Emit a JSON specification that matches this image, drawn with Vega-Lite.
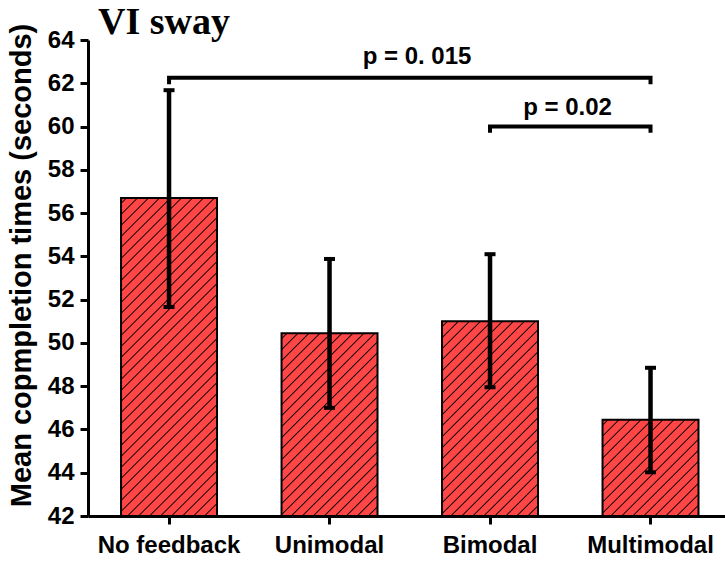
{
  "$schema": "https://vega.github.io/schema/vega-lite/v6.json",
  "autosize": {"type": "none"},
  "padding": {"left": 88, "top": 40, "right": 0, "bottom": 45},
  "width": 637,
  "height": 476,
  "background": "white",
  "title": {
    "text": "VI sway",
    "anchor": "start",
    "frame": "group",
    "font": "Liberation Serif",
    "fontSize": 38,
    "fontWeight": "bold",
    "color": "black",
    "baseline": "alphabetic",
    "dx": 10,
    "dy": 49,
    "offset": 0
  },
  "datasets": {
    "bars": [
      {"cond": "No feedback", "mean": 56.7, "lo": 51.66, "hi": 61.68},
      {"cond": "Unimodal", "mean": 50.45, "lo": 47.0, "hi": 53.88},
      {"cond": "Bimodal", "mean": 51.0, "lo": 47.95, "hi": 54.1},
      {"cond": "Multimodal", "mean": 46.45, "lo": 44.02, "hi": 48.85}
    ],
    "brackets": [
      {"pair": "nf-mm", "cond": "No feedback", "y": 62.05, "step": 1},
      {"pair": "nf-mm", "cond": "No feedback", "y": 62.25, "step": 2},
      {"pair": "nf-mm", "cond": "Multimodal", "y": 62.25, "step": 3},
      {"pair": "nf-mm", "cond": "Multimodal", "y": 62.05, "step": 4},
      {"pair": "bi-mm", "cond": "Bimodal", "y": 59.8, "step": 1},
      {"pair": "bi-mm", "cond": "Bimodal", "y": 60.0, "step": 2},
      {"pair": "bi-mm", "cond": "Multimodal", "y": 60.0, "step": 3},
      {"pair": "bi-mm", "cond": "Multimodal", "y": 59.8, "step": 4}
    ],
    "notes": [
      {"pair": "nf-mm", "cond": "Bimodal", "y": 63.2, "label": "p = 0. 015"},
      {"pair": "bi-mm", "cond": "Multimodal", "y": 60.86, "label": "p = 0.02"}
    ]
  },
  "encoding": {
    "x": {
      "field": "cond",
      "type": "nominal",
      "scale": {
        "domain": ["No feedback", "Unimodal", "Bimodal", "Multimodal"],
        "paddingInner": 0.402,
        "paddingOuter": 0.1855,
        "align": 0.555
      },
      "axis": {
        "title": null,
        "labelAngle": 0,
        "labelFont": "Liberation Sans",
        "labelFontWeight": "bold",
        "labelFontSize": 24,
        "labelColor": "black",
        "labelPadding": 9,
        "tickSize": 8,
        "tickWidth": 3,
        "tickColor": "black",
        "domainWidth": 3,
        "domainColor": "black",
        "grid": false
      }
    }
  },
  "layer": [
    {
      "data": {"name": "bars"},
      "mark": {"type": "bar", "stroke": "black", "strokeWidth": 2},
      "encoding": {
        "y": {
          "field": "mean",
          "type": "quantitative",
          "scale": {"domain": [42, 64], "zero": false, "nice": false},
          "axis": {
            "title": "Mean copmpletion times (seconds)",
            "titleFont": "Liberation Sans",
            "titleFontWeight": "bold",
            "titleFontSize": 29,
            "titleColor": "black",
            "titlePadding": 11,
            "titleY": 225,
            "values": [42, 43, 44, 45, 46, 47, 48, 49, 50, 51, 52, 53, 54, 55, 56, 57, 58, 59, 60, 61, 62, 63, 64],
            "labelExpr": "datum.value % 2 === 0 ? datum.label : ''",
            "labelFont": "Liberation Sans",
            "labelFontWeight": "bold",
            "labelFontSize": 24,
            "labelColor": "black",
            "labelPadding": 6,
            "tickSize": {"condition": {"test": "datum.value % 2 !== 0", "value": 4}, "value": 8},
            "tickWidth": 3,
            "tickColor": "black",
            "domainWidth": 3,
            "domainColor": "black",
            "grid": false
          }
        },
        "y2": {"datum": 42},
        "fill": {
          "condition": [
            {
              "test": "datum.cond === 'No feedback'",
              "value": {"gradient": "linear", "x1": 0, "y1": 0, "x2": 0.38271, "y2": 1.26791, "stops": [
                {"offset":0.0095,"color":"#ff4646"},{"offset":0.0125,"color":"#000000"},{"offset":0.0155,"color":"#ff4646"},
                {"offset":0.0345,"color":"#ff4646"},{"offset":0.0375,"color":"#000000"},{"offset":0.0405,"color":"#ff4646"},
                {"offset":0.0595,"color":"#ff4646"},{"offset":0.0625,"color":"#000000"},{"offset":0.0655,"color":"#ff4646"},
                {"offset":0.0845,"color":"#ff4646"},{"offset":0.0875,"color":"#000000"},{"offset":0.0905,"color":"#ff4646"},
                {"offset":0.1095,"color":"#ff4646"},{"offset":0.1125,"color":"#000000"},{"offset":0.1155,"color":"#ff4646"},
                {"offset":0.1345,"color":"#ff4646"},{"offset":0.1375,"color":"#000000"},{"offset":0.1405,"color":"#ff4646"},
                {"offset":0.1595,"color":"#ff4646"},{"offset":0.1625,"color":"#000000"},{"offset":0.1655,"color":"#ff4646"},
                {"offset":0.1845,"color":"#ff4646"},{"offset":0.1875,"color":"#000000"},{"offset":0.1905,"color":"#ff4646"},
                {"offset":0.2095,"color":"#ff4646"},{"offset":0.2125,"color":"#000000"},{"offset":0.2155,"color":"#ff4646"},
                {"offset":0.2345,"color":"#ff4646"},{"offset":0.2375,"color":"#000000"},{"offset":0.2405,"color":"#ff4646"},
                {"offset":0.2595,"color":"#ff4646"},{"offset":0.2625,"color":"#000000"},{"offset":0.2655,"color":"#ff4646"},
                {"offset":0.2845,"color":"#ff4646"},{"offset":0.2875,"color":"#000000"},{"offset":0.2905,"color":"#ff4646"},
                {"offset":0.3095,"color":"#ff4646"},{"offset":0.3125,"color":"#000000"},{"offset":0.3155,"color":"#ff4646"},
                {"offset":0.3345,"color":"#ff4646"},{"offset":0.3375,"color":"#000000"},{"offset":0.3405,"color":"#ff4646"},
                {"offset":0.3595,"color":"#ff4646"},{"offset":0.3625,"color":"#000000"},{"offset":0.3655,"color":"#ff4646"},
                {"offset":0.3845,"color":"#ff4646"},{"offset":0.3875,"color":"#000000"},{"offset":0.3905,"color":"#ff4646"},
                {"offset":0.4095,"color":"#ff4646"},{"offset":0.4125,"color":"#000000"},{"offset":0.4155,"color":"#ff4646"},
                {"offset":0.4345,"color":"#ff4646"},{"offset":0.4375,"color":"#000000"},{"offset":0.4405,"color":"#ff4646"},
                {"offset":0.4595,"color":"#ff4646"},{"offset":0.4625,"color":"#000000"},{"offset":0.4655,"color":"#ff4646"},
                {"offset":0.4845,"color":"#ff4646"},{"offset":0.4875,"color":"#000000"},{"offset":0.4905,"color":"#ff4646"},
                {"offset":0.5095,"color":"#ff4646"},{"offset":0.5125,"color":"#000000"},{"offset":0.5155,"color":"#ff4646"},
                {"offset":0.5345,"color":"#ff4646"},{"offset":0.5375,"color":"#000000"},{"offset":0.5405,"color":"#ff4646"},
                {"offset":0.5595,"color":"#ff4646"},{"offset":0.5625,"color":"#000000"},{"offset":0.5655,"color":"#ff4646"},
                {"offset":0.5845,"color":"#ff4646"},{"offset":0.5875,"color":"#000000"},{"offset":0.5905,"color":"#ff4646"},
                {"offset":0.6095,"color":"#ff4646"},{"offset":0.6125,"color":"#000000"},{"offset":0.6155,"color":"#ff4646"},
                {"offset":0.6345,"color":"#ff4646"},{"offset":0.6375,"color":"#000000"},{"offset":0.6405,"color":"#ff4646"},
                {"offset":0.6595,"color":"#ff4646"},{"offset":0.6625,"color":"#000000"},{"offset":0.6655,"color":"#ff4646"},
                {"offset":0.6845,"color":"#ff4646"},{"offset":0.6875,"color":"#000000"},{"offset":0.6905,"color":"#ff4646"},
                {"offset":0.7095,"color":"#ff4646"},{"offset":0.7125,"color":"#000000"},{"offset":0.7155,"color":"#ff4646"},
                {"offset":0.7345,"color":"#ff4646"},{"offset":0.7375,"color":"#000000"},{"offset":0.7405,"color":"#ff4646"},
                {"offset":0.7595,"color":"#ff4646"},{"offset":0.7625,"color":"#000000"},{"offset":0.7655,"color":"#ff4646"},
                {"offset":0.7845,"color":"#ff4646"},{"offset":0.7875,"color":"#000000"},{"offset":0.7905,"color":"#ff4646"},
                {"offset":0.8095,"color":"#ff4646"},{"offset":0.8125,"color":"#000000"},{"offset":0.8155,"color":"#ff4646"},
                {"offset":0.8345,"color":"#ff4646"},{"offset":0.8375,"color":"#000000"},{"offset":0.8405,"color":"#ff4646"},
                {"offset":0.8595,"color":"#ff4646"},{"offset":0.8625,"color":"#000000"},{"offset":0.8655,"color":"#ff4646"},
                {"offset":0.8845,"color":"#ff4646"},{"offset":0.8875,"color":"#000000"},{"offset":0.8905,"color":"#ff4646"},
                {"offset":0.9095,"color":"#ff4646"},{"offset":0.9125,"color":"#000000"},{"offset":0.9155,"color":"#ff4646"},
                {"offset":0.9345,"color":"#ff4646"},{"offset":0.9375,"color":"#000000"},{"offset":0.9405,"color":"#ff4646"}
              ]}
            },
            {
              "test": "datum.cond === 'Unimodal'",
              "value": {"gradient": "linear", "x1": 0, "y1": 0, "x2": 0.99055, "y2": 1.88648, "stops": [
                {"offset":0.0095,"color":"#ff4646"},{"offset":0.0125,"color":"#000000"},{"offset":0.0155,"color":"#ff4646"},
                {"offset":0.0345,"color":"#ff4646"},{"offset":0.0375,"color":"#000000"},{"offset":0.0405,"color":"#ff4646"},
                {"offset":0.0595,"color":"#ff4646"},{"offset":0.0625,"color":"#000000"},{"offset":0.0655,"color":"#ff4646"},
                {"offset":0.0845,"color":"#ff4646"},{"offset":0.0875,"color":"#000000"},{"offset":0.0905,"color":"#ff4646"},
                {"offset":0.1095,"color":"#ff4646"},{"offset":0.1125,"color":"#000000"},{"offset":0.1155,"color":"#ff4646"},
                {"offset":0.1345,"color":"#ff4646"},{"offset":0.1375,"color":"#000000"},{"offset":0.1405,"color":"#ff4646"},
                {"offset":0.1595,"color":"#ff4646"},{"offset":0.1625,"color":"#000000"},{"offset":0.1655,"color":"#ff4646"},
                {"offset":0.1845,"color":"#ff4646"},{"offset":0.1875,"color":"#000000"},{"offset":0.1905,"color":"#ff4646"},
                {"offset":0.2095,"color":"#ff4646"},{"offset":0.2125,"color":"#000000"},{"offset":0.2155,"color":"#ff4646"},
                {"offset":0.2345,"color":"#ff4646"},{"offset":0.2375,"color":"#000000"},{"offset":0.2405,"color":"#ff4646"},
                {"offset":0.2595,"color":"#ff4646"},{"offset":0.2625,"color":"#000000"},{"offset":0.2655,"color":"#ff4646"},
                {"offset":0.2845,"color":"#ff4646"},{"offset":0.2875,"color":"#000000"},{"offset":0.2905,"color":"#ff4646"},
                {"offset":0.3095,"color":"#ff4646"},{"offset":0.3125,"color":"#000000"},{"offset":0.3155,"color":"#ff4646"},
                {"offset":0.3345,"color":"#ff4646"},{"offset":0.3375,"color":"#000000"},{"offset":0.3405,"color":"#ff4646"},
                {"offset":0.3595,"color":"#ff4646"},{"offset":0.3625,"color":"#000000"},{"offset":0.3655,"color":"#ff4646"},
                {"offset":0.3845,"color":"#ff4646"},{"offset":0.3875,"color":"#000000"},{"offset":0.3905,"color":"#ff4646"},
                {"offset":0.4095,"color":"#ff4646"},{"offset":0.4125,"color":"#000000"},{"offset":0.4155,"color":"#ff4646"},
                {"offset":0.4345,"color":"#ff4646"},{"offset":0.4375,"color":"#000000"},{"offset":0.4405,"color":"#ff4646"},
                {"offset":0.4595,"color":"#ff4646"},{"offset":0.4625,"color":"#000000"},{"offset":0.4655,"color":"#ff4646"},
                {"offset":0.4845,"color":"#ff4646"},{"offset":0.4875,"color":"#000000"},{"offset":0.4905,"color":"#ff4646"},
                {"offset":0.5095,"color":"#ff4646"},{"offset":0.5125,"color":"#000000"},{"offset":0.5155,"color":"#ff4646"},
                {"offset":0.5345,"color":"#ff4646"},{"offset":0.5375,"color":"#000000"},{"offset":0.5405,"color":"#ff4646"},
                {"offset":0.5595,"color":"#ff4646"},{"offset":0.5625,"color":"#000000"},{"offset":0.5655,"color":"#ff4646"},
                {"offset":0.5845,"color":"#ff4646"},{"offset":0.5875,"color":"#000000"},{"offset":0.5905,"color":"#ff4646"},
                {"offset":0.6095,"color":"#ff4646"},{"offset":0.6125,"color":"#000000"},{"offset":0.6155,"color":"#ff4646"},
                {"offset":0.6345,"color":"#ff4646"},{"offset":0.6375,"color":"#000000"},{"offset":0.6405,"color":"#ff4646"},
                {"offset":0.6595,"color":"#ff4646"},{"offset":0.6625,"color":"#000000"},{"offset":0.6655,"color":"#ff4646"}
              ]}
            },
            {
              "test": "datum.cond === 'Bimodal'",
              "value": {"gradient": "linear", "x1": 0, "y1": 0, "x2": 0.89613, "y2": 1.81774, "stops": [
                {"offset":0.0095,"color":"#ff4646"},{"offset":0.0125,"color":"#000000"},{"offset":0.0155,"color":"#ff4646"},
                {"offset":0.0345,"color":"#ff4646"},{"offset":0.0375,"color":"#000000"},{"offset":0.0405,"color":"#ff4646"},
                {"offset":0.0595,"color":"#ff4646"},{"offset":0.0625,"color":"#000000"},{"offset":0.0655,"color":"#ff4646"},
                {"offset":0.0845,"color":"#ff4646"},{"offset":0.0875,"color":"#000000"},{"offset":0.0905,"color":"#ff4646"},
                {"offset":0.1095,"color":"#ff4646"},{"offset":0.1125,"color":"#000000"},{"offset":0.1155,"color":"#ff4646"},
                {"offset":0.1345,"color":"#ff4646"},{"offset":0.1375,"color":"#000000"},{"offset":0.1405,"color":"#ff4646"},
                {"offset":0.1595,"color":"#ff4646"},{"offset":0.1625,"color":"#000000"},{"offset":0.1655,"color":"#ff4646"},
                {"offset":0.1845,"color":"#ff4646"},{"offset":0.1875,"color":"#000000"},{"offset":0.1905,"color":"#ff4646"},
                {"offset":0.2095,"color":"#ff4646"},{"offset":0.2125,"color":"#000000"},{"offset":0.2155,"color":"#ff4646"},
                {"offset":0.2345,"color":"#ff4646"},{"offset":0.2375,"color":"#000000"},{"offset":0.2405,"color":"#ff4646"},
                {"offset":0.2595,"color":"#ff4646"},{"offset":0.2625,"color":"#000000"},{"offset":0.2655,"color":"#ff4646"},
                {"offset":0.2845,"color":"#ff4646"},{"offset":0.2875,"color":"#000000"},{"offset":0.2905,"color":"#ff4646"},
                {"offset":0.3095,"color":"#ff4646"},{"offset":0.3125,"color":"#000000"},{"offset":0.3155,"color":"#ff4646"},
                {"offset":0.3345,"color":"#ff4646"},{"offset":0.3375,"color":"#000000"},{"offset":0.3405,"color":"#ff4646"},
                {"offset":0.3595,"color":"#ff4646"},{"offset":0.3625,"color":"#000000"},{"offset":0.3655,"color":"#ff4646"},
                {"offset":0.3845,"color":"#ff4646"},{"offset":0.3875,"color":"#000000"},{"offset":0.3905,"color":"#ff4646"},
                {"offset":0.4095,"color":"#ff4646"},{"offset":0.4125,"color":"#000000"},{"offset":0.4155,"color":"#ff4646"},
                {"offset":0.4345,"color":"#ff4646"},{"offset":0.4375,"color":"#000000"},{"offset":0.4405,"color":"#ff4646"},
                {"offset":0.4595,"color":"#ff4646"},{"offset":0.4625,"color":"#000000"},{"offset":0.4655,"color":"#ff4646"},
                {"offset":0.4845,"color":"#ff4646"},{"offset":0.4875,"color":"#000000"},{"offset":0.4905,"color":"#ff4646"},
                {"offset":0.5095,"color":"#ff4646"},{"offset":0.5125,"color":"#000000"},{"offset":0.5155,"color":"#ff4646"},
                {"offset":0.5345,"color":"#ff4646"},{"offset":0.5375,"color":"#000000"},{"offset":0.5405,"color":"#ff4646"},
                {"offset":0.5595,"color":"#ff4646"},{"offset":0.5625,"color":"#000000"},{"offset":0.5655,"color":"#ff4646"},
                {"offset":0.5845,"color":"#ff4646"},{"offset":0.5875,"color":"#000000"},{"offset":0.5905,"color":"#ff4646"},
                {"offset":0.6095,"color":"#ff4646"},{"offset":0.6125,"color":"#000000"},{"offset":0.6155,"color":"#ff4646"},
                {"offset":0.6345,"color":"#ff4646"},{"offset":0.6375,"color":"#000000"},{"offset":0.6405,"color":"#ff4646"},
                {"offset":0.6595,"color":"#ff4646"},{"offset":0.6625,"color":"#000000"},{"offset":0.6655,"color":"#ff4646"},
                {"offset":0.6845,"color":"#ff4646"},{"offset":0.6875,"color":"#000000"},{"offset":0.6905,"color":"#ff4646"}
              ]}
            }
          ],
          "value": {"gradient": "linear", "x1": 0, "y1": 0, "x2": 2.285, "y2": 2.29165, "stops": [
            {"offset":0.0095,"color":"#ff4646"},{"offset":0.0125,"color":"#000000"},{"offset":0.0155,"color":"#ff4646"},
            {"offset":0.0345,"color":"#ff4646"},{"offset":0.0375,"color":"#000000"},{"offset":0.0405,"color":"#ff4646"},
            {"offset":0.0595,"color":"#ff4646"},{"offset":0.0625,"color":"#000000"},{"offset":0.0655,"color":"#ff4646"},
            {"offset":0.0845,"color":"#ff4646"},{"offset":0.0875,"color":"#000000"},{"offset":0.0905,"color":"#ff4646"},
            {"offset":0.1095,"color":"#ff4646"},{"offset":0.1125,"color":"#000000"},{"offset":0.1155,"color":"#ff4646"},
            {"offset":0.1345,"color":"#ff4646"},{"offset":0.1375,"color":"#000000"},{"offset":0.1405,"color":"#ff4646"},
            {"offset":0.1595,"color":"#ff4646"},{"offset":0.1625,"color":"#000000"},{"offset":0.1655,"color":"#ff4646"},
            {"offset":0.1845,"color":"#ff4646"},{"offset":0.1875,"color":"#000000"},{"offset":0.1905,"color":"#ff4646"},
            {"offset":0.2095,"color":"#ff4646"},{"offset":0.2125,"color":"#000000"},{"offset":0.2155,"color":"#ff4646"},
            {"offset":0.2345,"color":"#ff4646"},{"offset":0.2375,"color":"#000000"},{"offset":0.2405,"color":"#ff4646"},
            {"offset":0.2595,"color":"#ff4646"},{"offset":0.2625,"color":"#000000"},{"offset":0.2655,"color":"#ff4646"},
            {"offset":0.2845,"color":"#ff4646"},{"offset":0.2875,"color":"#000000"},{"offset":0.2905,"color":"#ff4646"},
            {"offset":0.3095,"color":"#ff4646"},{"offset":0.3125,"color":"#000000"},{"offset":0.3155,"color":"#ff4646"},
            {"offset":0.3345,"color":"#ff4646"},{"offset":0.3375,"color":"#000000"},{"offset":0.3405,"color":"#ff4646"},
            {"offset":0.3595,"color":"#ff4646"},{"offset":0.3625,"color":"#000000"},{"offset":0.3655,"color":"#ff4646"},
            {"offset":0.3845,"color":"#ff4646"},{"offset":0.3875,"color":"#000000"},{"offset":0.3905,"color":"#ff4646"},
            {"offset":0.4095,"color":"#ff4646"},{"offset":0.4125,"color":"#000000"},{"offset":0.4155,"color":"#ff4646"},
            {"offset":0.4345,"color":"#ff4646"},{"offset":0.4375,"color":"#000000"},{"offset":0.4405,"color":"#ff4646"}
          ]}
        }
      }
    },
    {
      "data": {"name": "bars"},
      "mark": {"type": "rule", "color": "black", "strokeWidth": 4.5},
      "encoding": {
        "y": {"field": "lo", "type": "quantitative"},
        "y2": {"field": "hi"}
      }
    },
    {
      "data": {"name": "bars"},
      "mark": {"type": "tick", "color": "black", "size": 11, "thickness": 4, "opacity": 1},
      "encoding": {
        "y": {"field": "lo", "type": "quantitative"}
      }
    },
    {
      "data": {"name": "bars"},
      "mark": {"type": "tick", "color": "black", "size": 11, "thickness": 4, "opacity": 1},
      "encoding": {
        "y": {"field": "hi", "type": "quantitative"}
      }
    },
    {
      "data": {"name": "brackets"},
      "mark": {"type": "line", "color": "black", "strokeWidth": 4, "strokeCap": "square", "strokeJoin": "miter"},
      "encoding": {
        "y": {"field": "y", "type": "quantitative"},
        "detail": {"field": "pair"},
        "order": {"field": "step", "type": "quantitative"}
      }
    },
    {
      "data": {"name": "notes"},
      "transform": [{"filter": "datum.pair === 'nf-mm'"}],
      "mark": {"type": "text", "font": "Liberation Sans", "fontWeight": "bold", "fontSize": 24, "color": "black", "baseline": "middle", "dx": -73},
      "encoding": {
        "y": {"field": "y", "type": "quantitative"},
        "text": {"field": "label"}
      }
    },
    {
      "data": {"name": "notes"},
      "transform": [{"filter": "datum.pair === 'bi-mm'"}],
      "mark": {"type": "text", "font": "Liberation Sans", "fontWeight": "bold", "fontSize": 24, "color": "black", "baseline": "middle", "dx": -83},
      "encoding": {
        "y": {"field": "y", "type": "quantitative"},
        "text": {"field": "label"}
      }
    }
  ],
  "config": {
    "view": {"stroke": null}
  }
}
